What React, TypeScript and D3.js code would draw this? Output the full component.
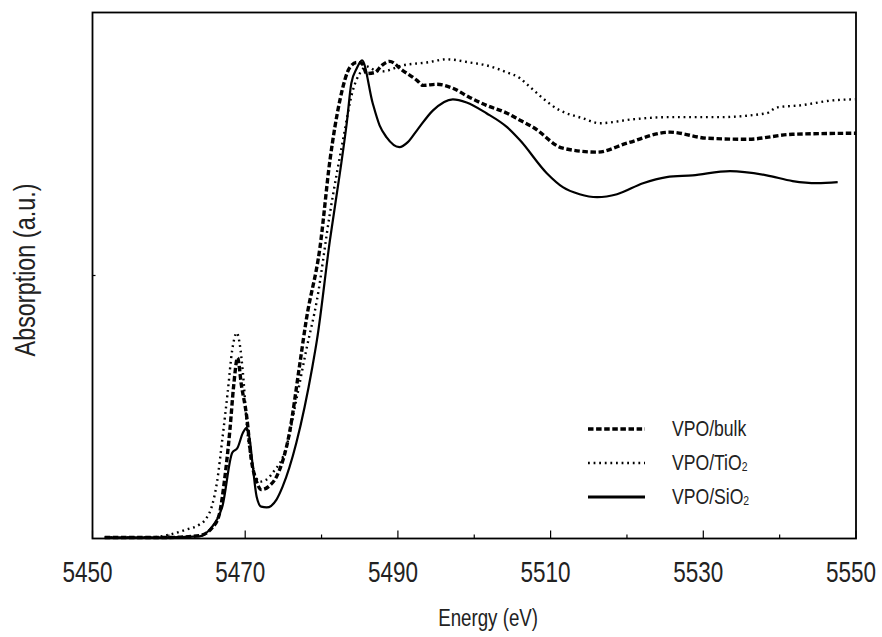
import React from "react";
import * as d3 from "d3";

const xTicksMajor = [5450, 5470, 5490, 5510, 5530, 5550];
const xTicksMinor = [5460, 5480, 5500, 5520, 5540];
const yTicks = [1];

const sio2E = [5451.6, 5458.8, 5464.0, 5465.7, 5466.3, 5467.0, 5468.3, 5469.0, 5469.7, 5470.2, 5470.6, 5471.0, 5471.5, 5472.1, 5472.8, 5474.1, 5474.9, 5476.7, 5478.8, 5479.4, 5481.1, 5482.4, 5483.3, 5483.9, 5484.6, 5485.3, 5486.7, 5487.6, 5488.5, 5490.2, 5491.3, 5492.5, 5494.6, 5497.2, 5499.0, 5501.6, 5504.3, 5506.0, 5509.5, 5511.6, 5513.8, 5516.1, 5518.7, 5522.1, 5525.2, 5528.6, 5533.5, 5538.3, 5541.7, 5544.9, 5547.6];
const sio2A = [0.004, 0.004, 0.008, 0.046, 0.072, 0.121, 0.326, 0.345, 0.402, 0.421, 0.376, 0.273, 0.159, 0.121, 0.118, 0.148, 0.197, 0.364, 0.653, 0.755, 1.135, 1.389, 1.579, 1.731, 1.787, 1.818, 1.655, 1.571, 1.526, 1.488, 1.507, 1.552, 1.628, 1.670, 1.658, 1.617, 1.564, 1.514, 1.389, 1.336, 1.309, 1.298, 1.309, 1.351, 1.374, 1.381, 1.397, 1.381, 1.359, 1.351, 1.355];

const bulkE = [5451.6, 5460.1, 5464.0, 5465.7, 5466.6, 5467.3, 5468.0, 5468.5, 5469.0, 5469.5, 5470.2, 5470.8, 5471.5, 5472.1, 5473.2, 5474.1, 5475.8, 5477.1, 5478.0, 5479.8, 5481.1, 5482.4, 5483.7, 5484.6, 5485.3, 5485.9, 5487.0, 5487.9, 5488.9, 5490.6, 5492.5, 5493.3, 5495.1, 5497.2, 5499.4, 5501.6, 5504.3, 5506.0, 5507.7, 5511.6, 5516.1, 5520.0, 5525.6, 5530.5, 5535.7, 5541.7, 5550.0];
const bulkA = [0.004, 0.004, 0.011, 0.042, 0.091, 0.224, 0.414, 0.584, 0.687, 0.584, 0.463, 0.300, 0.216, 0.186, 0.201, 0.235, 0.402, 0.653, 0.831, 1.108, 1.438, 1.666, 1.791, 1.810, 1.806, 1.768, 1.772, 1.799, 1.814, 1.780, 1.742, 1.723, 1.727, 1.712, 1.677, 1.647, 1.617, 1.590, 1.564, 1.484, 1.469, 1.503, 1.545, 1.522, 1.518, 1.537, 1.541];

const tio2E = [5451.6, 5457.5, 5460.1, 5462.3, 5464.0, 5464.9, 5465.7, 5466.3, 5467.0, 5467.7, 5468.3, 5468.9, 5469.3, 5469.7, 5470.3, 5471.0, 5471.9, 5472.8, 5473.6, 5475.4, 5476.7, 5478.0, 5479.4, 5481.1, 5482.8, 5484.1, 5485.0, 5485.9, 5487.0, 5488.0, 5490.6, 5493.8, 5496.4, 5499.4, 5501.6, 5504.3, 5506.0, 5506.9, 5511.2, 5514.2, 5516.4, 5520.8, 5525.2, 5531.8, 5538.3, 5539.6, 5542.7, 5547.0, 5549.9];
const tio2A = [0.004, 0.004, 0.015, 0.034, 0.053, 0.076, 0.129, 0.213, 0.376, 0.554, 0.717, 0.782, 0.736, 0.630, 0.402, 0.273, 0.216, 0.224, 0.250, 0.349, 0.528, 0.717, 0.907, 1.237, 1.514, 1.704, 1.768, 1.795, 1.780, 1.776, 1.799, 1.810, 1.822, 1.810, 1.799, 1.772, 1.750, 1.727, 1.628, 1.598, 1.579, 1.594, 1.602, 1.602, 1.617, 1.639, 1.647, 1.666, 1.670];

const seriesNames = ["VPO/bulk", "VPO/TiO", "VPO/SiO"];
const seriesSub = ["", "2", "2"];

const W = 882;
const H = 637;
const M = { left: 92.5, right: 856, top: 12.5, bottom: 538.5 };
const FONT = "'Liberation Sans', Arial, sans-serif";
const TXT = "#222";

const styles = [
  { width: 3.4, dash: "5.5,2.6" },
  { width: 2.4, dash: "1.8,3.8" },
  { width: 2.2, dash: null as string | null },
];

export default function App() {
  const x = d3.scaleLinear().domain([5450, 5550]).range([M.left, M.right]);
  const y = d3.scaleLinear().domain([0, 2]).range([M.bottom, M.top]);
  const line = d3
    .line<[number, number]>()
    .x((d) => x(d[0]))
    .y((d) => y(d[1]))
    .curve(d3.curveMonotoneX);

  const data: [number, number][][] = [
    bulkE.map((e, i) => [e, bulkA[i]]),
    tio2E.map((e, i) => [e, tio2A[i]]),
    sio2E.map((e, i) => [e, sio2A[i]]),
  ];

  const legendY = [429, 463, 497];

  return (
    <svg width={W} height={H} style={{ position: "absolute", left: 0, top: 0 }}>
      <rect x={0} y={0} width={W} height={H} fill="#fff" />
      {data.map((d, i) => (
        <path
          key={i}
          d={line(d) || ""}
          fill="none"
          stroke="#000"
          strokeWidth={styles[i].width}
          strokeDasharray={styles[i].dash || undefined}
          strokeLinejoin="round"
        />
      ))}
      <rect
        x={M.left}
        y={M.top}
        width={M.right - M.left}
        height={M.bottom - M.top}
        fill="none"
        stroke="#000"
        strokeWidth={1.8}
      />
      {xTicksMajor.map((t) => (
        <line key={"M" + t} x1={x(t)} x2={x(t)} y1={M.bottom} y2={M.bottom - 8} stroke="#000" strokeWidth={1.2} />
      ))}
      {xTicksMinor.map((t) => (
        <line key={"m" + t} x1={x(t)} x2={x(t)} y1={M.bottom} y2={M.bottom - 4} stroke="#000" strokeWidth={1.2} />
      ))}
      {yTicks.map((t) => (
        <line key={"y" + t} x1={M.left} x2={M.left + 3} y1={y(t)} y2={y(t)} stroke="#000" strokeWidth={1.2} />
      ))}
      {xTicksMajor.map((t) => (
        <text
          key={"l" + t}
          transform={`translate(${x(t) - 5},582) scale(0.75,1)`}
          textAnchor="middle"
          fontFamily={FONT}
          fontSize={30}
          fill={TXT}
        >
          {t}
        </text>
      ))}
      <text
        transform={`translate(538,626) scale(0.78,1)`}
        textAnchor="end"
        fontFamily={FONT}
        fontSize={24}
        fill={TXT}
      >
        Energy (eV)
      </text>
      <text
        transform={`translate(35,270) rotate(-90) scale(0.78,1)`}
        textAnchor="middle"
        fontFamily={FONT}
        fontSize={30}
        fill={TXT}
      >
        Absorption (a.u.)
      </text>
      {seriesNames.map((n, i) => (
        <g key={"lg" + i}>
          <line
            x1={588}
            x2={645}
            y1={legendY[i]}
            y2={legendY[i]}
            stroke="#000"
            strokeWidth={i === 2 ? 3 : styles[i].width}
            strokeDasharray={styles[i].dash || undefined}
          />
          <text
            transform={`translate(672,${legendY[i] + 7}) scale(0.8,1)`}
            fontFamily={FONT}
            fontSize={22}
            fill={TXT}
          >
            {n}
            {seriesSub[i] ? (
              <tspan fontSize={13} dy={1}>
                {seriesSub[i]}
              </tspan>
            ) : null}
          </text>
        </g>
      ))}
    </svg>
  );
}
